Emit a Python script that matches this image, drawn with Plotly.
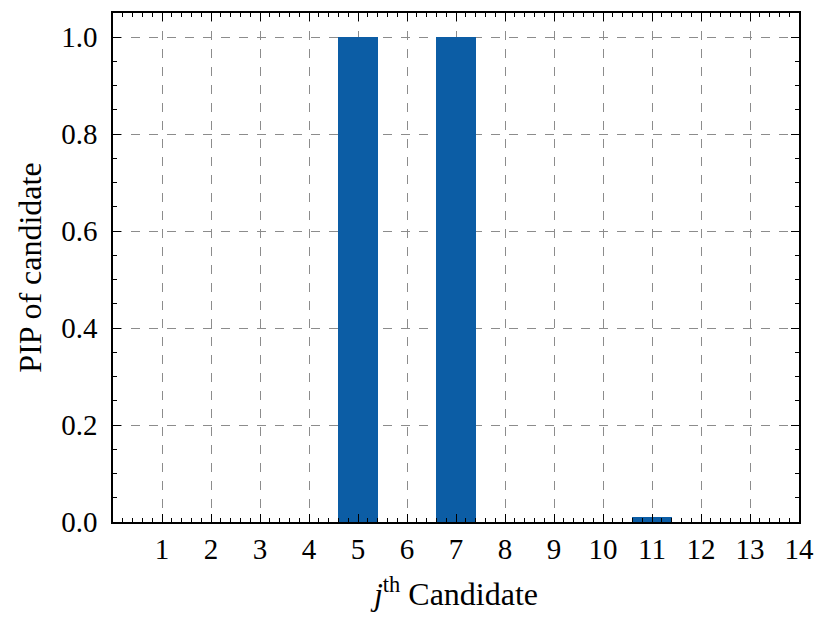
import plotly.graph_objects as go

candidates = list(range(1, 15))
pip_values = [0, 0, 0, 0, 1.0, 0, 1.0, 0, 0, 0, 0.01, 0, 0, 0]
x_tick_labels = [str(c) for c in candidates]

font_family = "Liberation Serif, DejaVu Serif, serif"

fig = go.Figure()
fig.add_trace(go.Bar(x=candidates, y=pip_values, width=0.8,
                     marker=dict(color="#0C5DA5", line=dict(width=0))))

axis_common = dict(
    showline=True, linecolor="black", linewidth=1.5, mirror="allticks",
    ticks="inside", tickcolor="black", tickwidth=1.3, ticklen=8,
    showgrid=True, gridcolor="#8c8c8c", griddash="dash", gridwidth=1,
    zeroline=False, automargin=False,
    tickfont=dict(family=font_family, size=29, color="black"),
)

fig.update_xaxes(
    **axis_common,
    range=[0, 14],
    tickmode="array", tickvals=candidates, ticktext=x_tick_labels,
    ticklabelstandoff=0,
    minor=dict(ticks="inside", ticklen=4, tickwidth=1, tickcolor="black",
               dtick=0.2, tick0=0, showgrid=False),
    title=dict(text="<i>j</i><sup>th</sup> Candidate",
               font=dict(family=font_family, size=32, color="black"), standoff=19),
)
fig.update_yaxes(
    **axis_common,
    range=[0, 1.05],
    tickmode="linear", tick0=0, dtick=0.2, tickformat=".1f",
    ticklabelstandoff=8,
    minor=dict(ticks="inside", ticklen=4, tickwidth=1, tickcolor="black",
               dtick=0.05, tick0=0, showgrid=False),
    title=dict(text="PIP of candidate",
               font=dict(family=font_family, size=32, color="black"), standoff=10),
)

fig.update_layout(
    width=829, height=629,
    margin=dict(l=105, r=38, t=5, b=115),
    plot_bgcolor="white", paper_bgcolor="white",
    showlegend=False, bargap=0,
)

fig.write_html("out.html")
